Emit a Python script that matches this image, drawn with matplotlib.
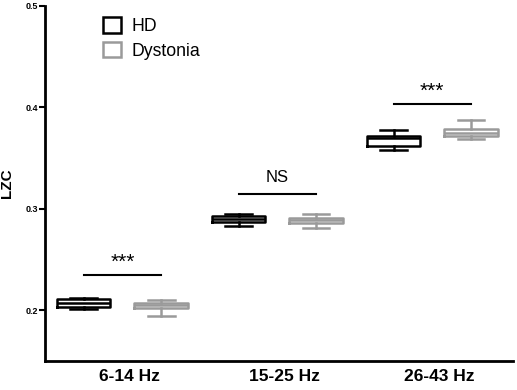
import matplotlib
matplotlib.use('Agg')
from matplotlib import pyplot as plt
from matplotlib.patches import Patch
import numpy as np

plt.rcParams['font.family'] = ['Liberation Sans', 'DejaVu Sans']

bands = ['6-14 Hz', '15-25 Hz', '26-43 Hz']
groups = ['HD', 'Dystonia']
colors = ['black', '#9a9a9a']

# whisker low, q1, median, q3, whisker high
hd_min = [0.2010, 0.2829, 0.3576]
hd_q1 = [0.2032, 0.2872, 0.3622]
hd_med = [0.2069, 0.2900, 0.3696]
hd_q3 = [0.2108, 0.2924, 0.3721]
hd_max = [0.2125, 0.2944, 0.3773]

dy_min = [0.1944, 0.2806, 0.3688]
dy_q1 = [0.2027, 0.2855, 0.3714]
dy_med = [0.2049, 0.2885, 0.3750]
dy_q3 = [0.2069, 0.2912, 0.3787]
dy_max = [0.2098, 0.2944, 0.3878]

sig_labels = ['***', 'NS', '***']
sig_line_y = [0.2343, 0.3144, 0.4029]

fig = plt.figure(figsize=(5.17, 3.9), dpi=100)
ax = fig.add_axes([0.087, 0.0744, 0.905, 0.9106])

x = np.arange(1, len(bands) + 1)
off = 0.25
width = 0.345

def stats(lo, q1, med, q3, hi):
    return [dict(whislo=a, q1=b, med=c, q3=d, whishi=e, fliers=[])
            for a, b, c, d, e in zip(lo, q1, med, q3, hi)]

series = [stats(hd_min, hd_q1, hd_med, hd_q3, hd_max),
          stats(dy_min, dy_q1, dy_med, dy_q3, dy_max)]

for i, (st, col) in enumerate(zip(series, colors)):
    pos = x + (-off if i == 0 else off)
    lp = dict(color=col, linewidth=1.8)
    ax.bxp(st, positions=pos, widths=width, showfliers=False,
           boxprops=lp, whiskerprops=lp, capprops=lp, medianprops=lp,
           manage_ticks=False)

for xi, lab, ly in zip(x, sig_labels, sig_line_y):
    ax.plot([xi - off, xi + off], [ly, ly], color='black', lw=1.5)
    if lab == 'NS':
        ax.text(xi, ly + 0.0095, lab, ha='center', va='bottom', fontsize=12)
    else:
        ax.text(xi, ly + 0.0035, lab, ha='center', va='bottom', fontsize=15)

ax.set_xlim(0.5, 3.52)
ax.set_ylim(0.15, 0.5)
ax.set_yticks([0.2, 0.3, 0.4, 0.5])
ax.set_yticklabels(['0.2', '0.3', '0.4', '0.5'], fontsize=6.5, fontweight='bold')
ax.set_xticks(x + 0.045)
ax.set_xticklabels(bands, fontsize=12.5, fontweight='bold')
ax.tick_params(axis='x', length=0, pad=6)
ax.tick_params(axis='y', length=4, width=1.5, pad=1)
ax.set_ylabel('LZC', fontsize=11, fontweight='bold', labelpad=8)
for s in ['top', 'right']:
    ax.spines[s].set_visible(False)
for s in ['left', 'bottom']:
    ax.spines[s].set_linewidth(2)

handles = [Patch(facecolor='white', edgecolor=c, linewidth=1.8, label=g)
           for g, c in zip(groups, colors)]
ax.legend(handles=handles, loc='upper left', bbox_to_anchor=(0.09, 1.012),
          frameon=False, fontsize=12.7, handlelength=1.0, handleheight=1.0,
          handletextpad=0.6, labelspacing=0.35)

fig.savefig('out.png', dpi=100)
